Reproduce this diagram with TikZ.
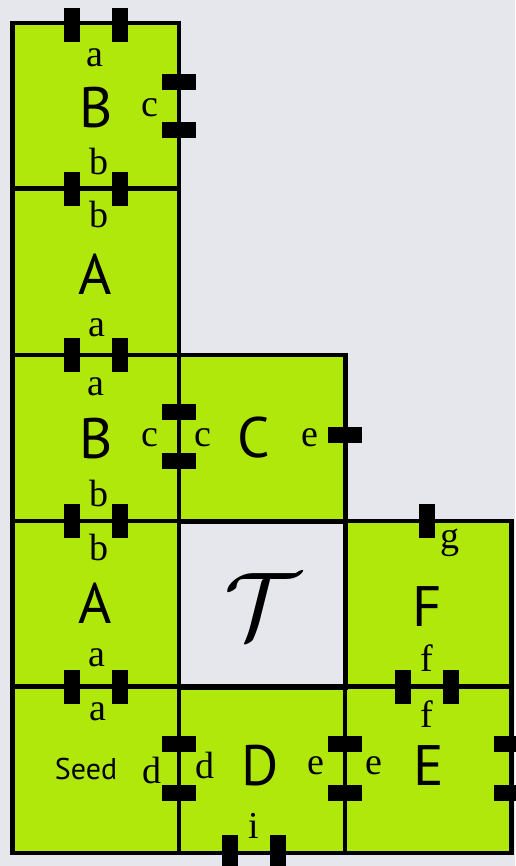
\documentclass[tikz,border=0pt]{standalone}
\usepackage{fontspec}
\setmainfont{Liberation Serif}
\setsansfont{PT Sans}
\usetikzlibrary{positioning}
\definecolor{tilegreen}{RGB}{176,232,12}
\definecolor{paper}{RGB}{229,231,236}
\tikzset{tile/.style={draw,line width=4.5pt,fill=tilegreen,minimum width=166.5pt,
    minimum height=166.5pt,inner sep=0pt},
    empty tile/.style={tile,fill=none},
    vbar/.style={fill=black,minimum width=16pt,minimum height=34pt,inner sep=0pt},
    hbar/.style={fill=black,minimum width=34pt,minimum height=16pt,inner sep=0pt},
    glue/.style={font=\fontsize{38}{38}\selectfont,inner sep=0pt},
    tile name/.style={font=\sffamily\fontsize{57}{57}\selectfont,inner sep=0pt}}

\begin{document}
\begin{tikzpicture}[x=1pt,y=-1pt]

  % the page
  \fill[paper] (0,0) rectangle (515,866);
  \useasboundingbox (0,0) rectangle (515,866);

  % First we draw the tiles
  \foreach \pos/\name in {{(95.5,106.5)/b1}, {(95.5,272)/a1}, {(95.5,438)/b2},
                          {(262,438)/c1}, {(95.5,604)/a2}, {(428,604)/f1},
                          {(95.5,769.5)/seed}, {(262,769.5)/d1}, {(428,769.5)/e1}}
    \node[tile] (\name) at \pos {};
  \node[empty tile] (t1) at (262,604) {};

  % Glues on the horizontal edges
  \foreach \pos/\name in {{(72,25)/g1}, {(120,25)/g2}, {(72,189)/g3}, {(120,189)/g4},
                          {(72,355)/g5}, {(120,355)/g6}, {(72,521)/g7}, {(120,521)/g8},
                          {(72,687)/g9}, {(120,687)/g10}, {(427,521)/g11},
                          {(403,687)/g12}, {(451,687)/g13},
                          {(230,852)/g14}, {(278,852)/g15}}
    \node[vbar] (\name) at \pos {};

  % Glues on the vertical edges
  \foreach \pos/\name in {{(179,82)/h1}, {(179,130)/h2}, {(179,412)/h3}, {(179,461)/h4},
                          {(345,435)/h5}, {(179,744)/h6}, {(179,793)/h7},
                          {(345,744)/h8}, {(345,793)/h9}, {(511,744)/h10}, {(511,793)/h11}}
    \node[hbar] (\name) at \pos {};

  % Tile names
  \foreach \pos/\name/\txt in {{(96,108)/nb1/B}, {(95,274)/na1/A}, {(96,439)/nb2/B},
                               {(254,438)/nc1/C}, {(95,603)/na2/A}, {(427,607)/nf1/F},
                               {(260,766)/nd1/D}, {(429,766)/ne1/E}}
    \node[tile name] (\name) at \pos {\txt};
  \node[font=\sffamily\fontsize{30}{30}\selectfont,inner sep=0pt] (nseed) at (86,769) {Seed};
  \node[inner sep=0pt,scale=9.5] (nt1) at (262,606) {$\mathcal{T}$};

  % Glue labels
  \foreach \pos/\name/\glue in {{(95,58)/l1/a}, {(150,108)/l2/c}, {(99,162)/l3/b},
                                {(99,215)/l4/b}, {(97,328)/l5/a},
                                {(96,387)/l6/a}, {(150,438)/l7/c}, {(99,493)/l8/b},
                                {(203,438)/l9/c}, {(310,438)/l10/e},
                                {(99,547)/l11/b}, {(97,658)/l12/a},
                                {(450,543)/l13/g}, {(427,658)/l14/f},
                                {(98,712)/l15/a}, {(152,770)/l16/d},
                                {(205,765)/l17/d}, {(316,766)/l18/e}, {(254,826)/l19/i},
                                {(374,766)/l20/e}, {(427,714)/l21/f}}
    \node[glue] (\name) at \pos {\glue};

\end{tikzpicture}
\end{document}
